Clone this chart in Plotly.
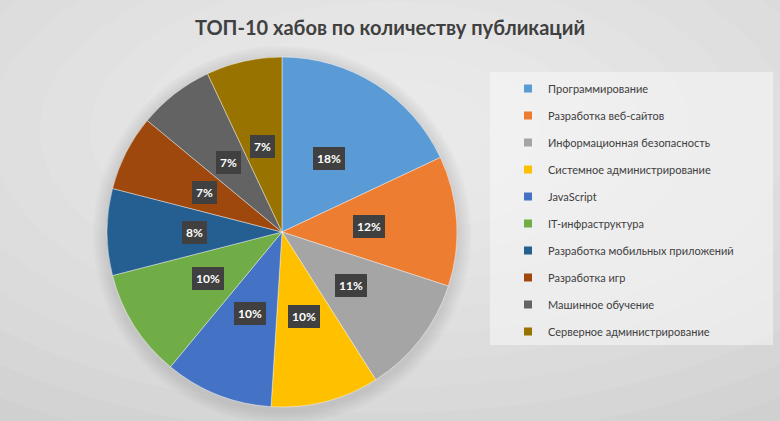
import math
import plotly.graph_objects as go

# ---- data ----
labels = [
    "Программирование",
    "Разработка веб-сайтов",
    "Информационная безопасность",
    "Системное администрирование",
    "JavaScript",
    "IT-инфраструктура",
    "Разработка мобильных приложений",
    "Разработка игр",
    "Машинное обучение",
    "Серверное администрирование",
]
values = [18, 12, 11, 10, 10, 10, 8, 7, 7, 7]
colors = ["#5B9BD5", "#ED7D31", "#A5A5A5", "#FFC000", "#4472C4",
          "#70AD47", "#255E91", "#9E480E", "#636363", "#997300"]
title_text = "ТОП-10 хабов по количеству публикаций"

FONT = "Lato"
W, H = 780, 421
cx, cy, R = 282, 232, 175  # pie centre / radius in pixels

fig = go.Figure()

fig.add_trace(go.Pie(
    labels=labels, values=values, sort=False, direction="clockwise", rotation=0,
    marker=dict(colors=colors, line=dict(color="rgba(255,255,255,0.6)", width=0.7)),
    textinfo="none", hoverinfo="label+percent", showlegend=False,
    domain=dict(x=[(cx - R) / W, (cx + R) / W], y=[(H - (cy + R)) / H, (H - (cy - R)) / H]),
))

# legend entries (one group per category to control spacing)
for lab, col in zip(labels, colors):
    fig.add_trace(go.Scatter(
        x=[None], y=[None], mode="markers", name=lab, legendgroup=lab,
        marker=dict(symbol="square", size=8, color=col), showlegend=True,
    ))

# percentage labels with dark boxes, positioned from the data
total = sum(values)
annotations = []
cum = 0
for v in values:
    mid = (cum + v / 2) / total * 2 * math.pi
    cum += v
    px = cx + 0.5 * R * math.sin(mid)
    py = cy - 0.5 * R * math.cos(mid)
    annotations.append(dict(
        x=px / W, y=(H - py) / H, xref="paper", yref="paper",
        xanchor="center", yanchor="middle",
        text=f"<b>{round(100 * v / total)}%</b>", showarrow=False,
        font=dict(family=FONT, size=12, color="white"),
        bgcolor="#404040", borderpad=4, borderwidth=0,
    ))

# background radial gradient approximation
shapes = []
n = 14
for i in range(n):
    f = 1 - i / n
    rx = 700 * f
    ry = 360 * f
    ccx, ccy = 390, 130
    shapes.append(dict(
        type="circle", xref="paper", yref="paper", layer="below",
        x0=(ccx - rx) / W, x1=(ccx + rx) / W,
        y0=(H - (ccy + ry)) / H, y1=(H - (ccy - ry)) / H,
        fillcolor="rgba(255,255,255,0.075)", line=dict(width=0),
    ))
# soft shadow around the pie
for k in range(6):
    rr = R + 14 - 2.3 * k
    shapes.append(dict(
        type="circle", xref="paper", yref="paper", layer="below",
        x0=(cx - rr) / W, x1=(cx + rr) / W,
        y0=(H - (cy + 3 + rr)) / H, y1=(H - (cy + 3 - rr)) / H,
        fillcolor="rgba(120,120,120,0.035)", line=dict(width=0),
    ))
# legend box
shapes.append(dict(
    type="rect", xref="paper", yref="paper", layer="below",
    x0=490 / W, x1=773 / W, y0=(H - 345) / H, y1=(H - 72) / H,
    fillcolor="rgba(248,248,248,0.55)", line=dict(width=0),
))

fig.update_layout(
    width=W, height=H, autosize=False,
    margin=dict(l=0, r=0, t=0, b=0),
    paper_bgcolor="#cdcdcd", plot_bgcolor="rgba(0,0,0,0)",
    title=dict(text=f"<b>{title_text}</b>", x=0.5, xanchor="center",
               y=(H - 28) / H, yanchor="middle",
               font=dict(family=FONT, size=20, color="#404040")),
    xaxis=dict(visible=False), yaxis=dict(visible=False),
    legend=dict(x=508 / W, xanchor="left", y=(H - 74) / H, yanchor="top",
                bgcolor="rgba(0,0,0,0)", tracegroupgap=8,
                font=dict(family=FONT, size=11, color="#404040")),
    annotations=annotations, shapes=shapes,
)

fig.write_html("out.html")
